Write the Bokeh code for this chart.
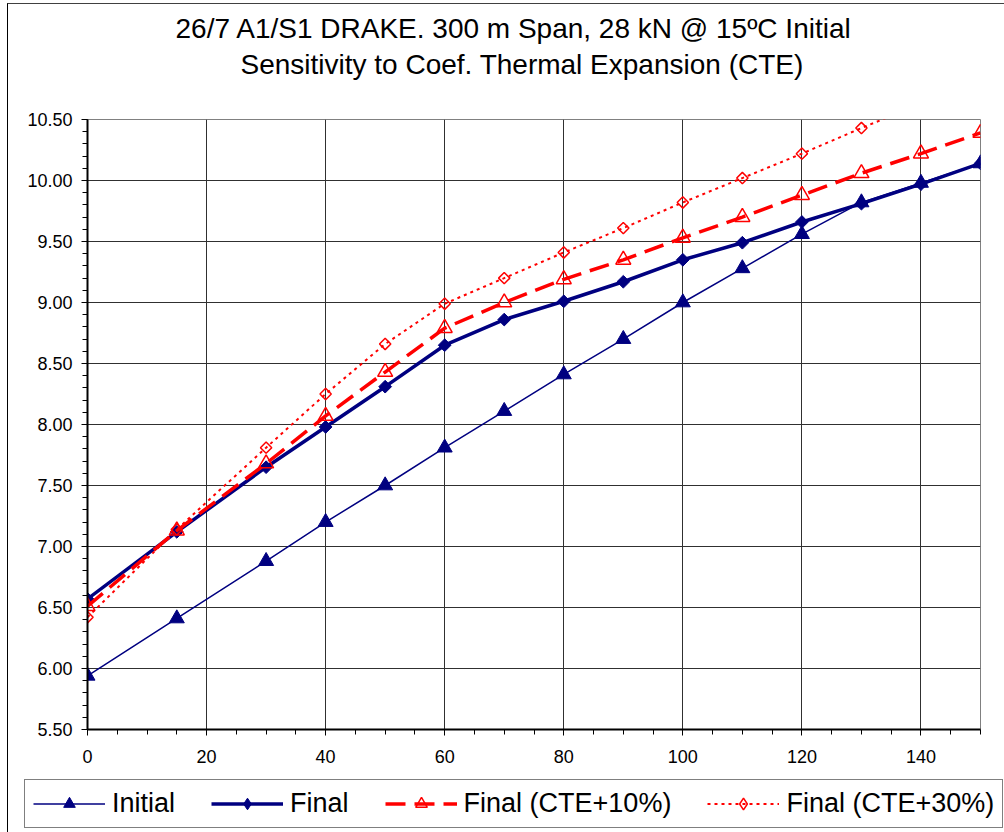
from bokeh.plotting import figure
from bokeh.models import (FixedTicker, NumeralTickFormatter, Legend, LegendItem,
                          Title, Range1d)
from bokeh.embed import file_html
from bokeh.resources import INLINE

# ---------------- data ----------------
title_line1 = "26/7 A1/S1 DRAKE. 300 m Span, 28 kN @ 15ºC Initial"
title_line2 = "Sensitivity to Coef. Thermal Expansion (CTE)"

temperature = [0, 15, 30, 40, 50, 60, 70, 80, 90, 100, 110, 120, 130, 140, 150]
initial = [5.94, 6.41, 6.88, 7.20, 7.50, 7.81, 8.11, 8.41, 8.70, 9.00, 9.28, 9.56, 9.82, 9.98, 10.14]
final = [6.57, 7.12, 7.65, 7.98, 8.31, 8.65, 8.86, 9.01, 9.17, 9.35, 9.49, 9.66, 9.81, 9.97, 10.14]
final_cte10 = [6.51, 7.13, 7.68, 8.07, 8.43, 8.79, 9.00, 9.19, 9.35, 9.53, 9.70, 9.88, 10.06, 10.22, 10.39]
final_cte30 = [6.42, 7.14, 7.81, 8.25, 8.66, 8.99, 9.20, 9.41, 9.61, 9.82, 10.02, 10.22, 10.43, 10.63, 10.82]
series_labels = ["Initial", "Final", "Final (CTE+10%)", "Final (CTE+30%)"]

x_ticks = [0, 20, 40, 60, 80, 100, 120, 140]
x_minor = [v * 5 for v in range(31)]
y_ticks = [5.5, 6.0, 6.5, 7.0, 7.5, 8.0, 8.5, 9.0, 9.5, 10.0, 10.5]
y_minor = [round(5.5 + 0.1 * i, 2) for i in range(51)]

FONT = "Liberation Sans"
NAVY = "#000080"
RED = "#FF0000"
DIAMOND_ANGLE = 0.7853981634

series_values = [initial, final, final_cte10, final_cte30]
# series styles: (line kwargs, marker kwargs on chart, marker kwargs in legend)
styles = [
    (dict(line_color=NAVY, line_width=1.5),
     dict(marker="triangle", size=15, fill_color=NAVY, line_color=NAVY),
     dict(marker="triangle", size=15, fill_color=NAVY, line_color=NAVY)),
    (dict(line_color=NAVY, line_width=3.5),
     dict(marker="square", size=9, angle=DIAMOND_ANGLE, fill_color=NAVY, line_color=NAVY),
     dict(marker="diamond", size=15, fill_color=NAVY, line_color=NAVY)),
    (dict(line_color=RED, line_width=3.5, line_dash="20 9"),
     dict(marker="triangle", size=15, fill_color=None, line_color=RED, line_width=1.5),
     dict(marker="triangle", size=15, fill_color=None, line_color=RED, line_width=1.5)),
    (dict(line_color=RED, line_width=2, line_dash="3 4"),
     dict(marker="square", size=8, angle=DIAMOND_ANGLE, fill_color=None, line_color=RED,
          line_width=1.5),
     dict(marker="diamond", size=15, fill_color=None, line_color=RED, line_width=1.5)),
]

p = figure(frame_width=893, frame_height=610,
           x_range=Range1d(0, 150), y_range=Range1d(5.5, 10.5),
           output_backend="svg", toolbar_location=None, title=None,
           min_border_left=79, min_border_right=24,
           min_border_top=115, min_border_bottom=46,
           background_fill_color="white", border_fill_color="white")
p.styles = {"margin-left": "7px", "margin-top": "3px",
            "border-left": "1px solid #000000", "border-top": "1px solid #404040"}

# titles stack outward from the frame: spacer, subtitle, main title
p.add_layout(Title(text=" ", text_font=FONT, text_font_size="1px",
                   standoff=34, align="left"), "above")
p.add_layout(Title(text=title_line2, text_font=FONT, text_font_size="28px",
                   text_font_style="normal", align="left", offset=153,
                   standoff=6, text_color="black"), "above")
p.add_layout(Title(text=title_line1, text_font=FONT, text_font_size="28px",
                   text_font_style="normal", align="left", offset=88,
                   standoff=0, text_color="black"), "above")

# axes
for ax, ticks, minor, fmt in ((p.xaxis[0], x_ticks, x_minor, "0"),
                              (p.yaxis[0], y_ticks, y_minor, "0.00")):
    ax.ticker = FixedTicker(ticks=ticks, minor_ticks=minor)
    ax.formatter = NumeralTickFormatter(format=fmt)
    ax.axis_line_color = "black"
    ax.axis_line_width = 2
    ax.major_tick_line_color = "black"
    ax.major_tick_line_width = 1
    ax.minor_tick_line_color = "black"
    ax.major_tick_in = 0
    ax.major_tick_out = 6
    ax.minor_tick_in = 0
    ax.minor_tick_out = 5
    ax.major_label_text_font = FONT
    ax.major_label_text_font_size = "18px"
    ax.major_label_text_color = "black"
p.yaxis[0].major_label_standoff = 9
p.xaxis[0].major_label_standoff = 14

p.xgrid.ticker = FixedTicker(ticks=x_ticks + [150])
p.ygrid.ticker = FixedTicker(ticks=y_ticks)
for g in (p.xgrid, p.ygrid):
    g.grid_line_color = "#303030"
    g.grid_line_width = 1
p.outline_line_color = "#808080"
p.outline_line_width = 1

# series on the chart
for ys, (lk, mk, _) in zip(series_values, styles):
    p.line(temperature, ys, **lk)
    p.scatter(temperature, ys, **mk)

# legend strip: an independent root (no frame alignment, nothing clipped);
# its series renderers fall outside its tiny ranges and only feed the legend glyphs
lg = figure(width=996, height=57, output_backend="svg", toolbar_location=None,
            title=None, x_axis_location=None, y_axis_location=None,
            min_border=0, x_range=Range1d(0, 1), y_range=Range1d(0, 1),
            background_fill_color="white", border_fill_color="white",
            outline_line_color=None)
lg.styles = {"margin-left": "7px", "border-left": "1px solid #000000"}
lg.xgrid.visible = False
lg.ygrid.visible = False
items = []
for label, ys, (lk, _, lmk) in zip(series_labels, series_values, styles):
    lr = lg.line(temperature, ys, **lk)
    mr = lg.scatter(temperature, ys, **lmk)
    items.append(LegendItem(label=label, renderers=[lr, mr]))

legend = Legend(items=items, orientation="horizontal", location=(16, 4),
                border_line_color="black", border_line_width=1,
                background_fill_color="white", background_fill_alpha=1,
                padding=8, spacing=36, glyph_width=72, glyph_height=29,
                label_standoff=7, label_text_font=FONT, label_text_font_size="27px",
                label_text_color="black", margin=0)
lg.add_layout(legend)

open("out.html", "w").write(file_html([p, lg], INLINE))
